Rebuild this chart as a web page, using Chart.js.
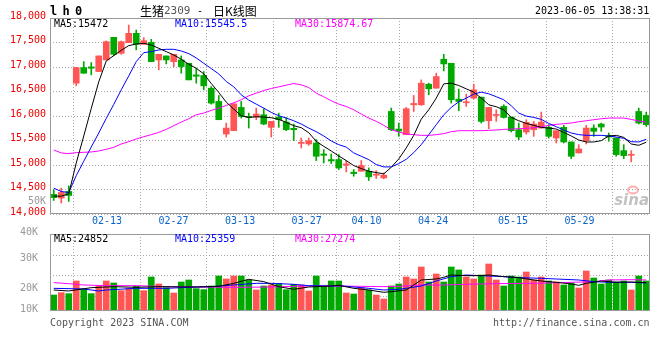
<!DOCTYPE html>
<html>
<head>
<meta charset="utf-8">
<title>生猪2309 日K线图</title>
<script src="https://cdn.jsdelivr.net/npm/chart.js"></script>
<style>
  body { margin: 0; background: #fff; }
  #box { position: relative; width: 660px; height: 360px; overflow: hidden; }
  #box canvas { position: absolute; left: 0; top: 0; }
  .txt { position: absolute; white-space: pre; font: 10px 'DejaVu Sans Mono', monospace; line-height: 12px; color: #000; }
  .cjk { font-family: 'Noto Sans CJK SC', sans-serif; font-size: 12px; line-height: 14px; }
</style>
</head>
<body>
<div id="box">
  <canvas id="price" width="660" height="360"></canvas>
  <canvas id="vol" width="660" height="360"></canvas>

  <div class="txt" style="left:50px;top:4px;font-weight:bold;font-size:12px;line-height:14px;letter-spacing:-1px">l h 0</div>
  <div class="txt cjk" style="left:140px;top:4px">生猪</div>
  <div class="txt" style="left:164px;top:5px;font-size:11px;color:#555">2309</div>
  <div class="txt" style="left:197px;top:5px">-</div>
  <div class="txt cjk" style="left:213px;top:4px">日K线图</div>
  <div class="txt" style="left:535px;top:5px">2023-06-05 13:38:31</div>

  <div class="txt" style="left:54px;top:18px">MA5:15472</div>
  <div class="txt" style="left:175px;top:18px;color:#0000ff">MA10:15545.5</div>
  <div class="txt" style="left:295px;top:18px;color:#ff00ff">MA30:15874.67</div>

  <div class="txt" style="left:54px;top:233px">MA5:24852</div>
  <div class="txt" style="left:175px;top:233px;color:#0000ff">MA10:25359</div>
  <div class="txt" style="left:295px;top:233px;color:#ff00ff">MA30:27274</div>

  <div class="txt" style="left:50px;top:317px;color:#555">Copyright 2023 SINA.COM</div>
  <div class="txt" style="left:493px;top:317px;color:#555">http://finance.sina.com.cn</div>
</div>

<script>
const dates = [
  '02-08','02-09','02-10','02-13','02-14','02-15','02-16','02-17','02-20','02-21',
  '02-22','02-23','02-24','02-27','02-28','03-01','03-02','03-03','03-06','03-07',
  '03-08','03-09','03-10','03-13','03-14','03-15','03-16','03-17','03-20','03-21',
  '03-22','03-23','03-24','03-27','03-28','03-29','03-30','03-31','04-03','04-04',
  '04-06','04-07','04-10','04-11','04-12','04-13','04-14','04-17','04-18','04-19',
  '04-20','04-21','04-24','04-25','04-26','04-27','04-28','05-04','05-05','05-08',
  '05-09','05-10','05-11','05-12','05-15','05-16','05-17','05-18','05-19','05-22',
  '05-23','05-24','05-25','05-26','05-29','05-30','05-31','06-01','06-02','06-05'
];

const opens = [
  14400,14325,14460,16670,16988,17002,16907,17144,17605,17280,
  17497,17687,17463,17503,17144,17226,17110,17144,17076,16839,
  16826,16568,16297,15632,15700,16175,15992,15978,16026,15768,
  15978,15876,15748,15442,15429,15449,15225,15110,15110,14995,
  14853,14873,14873,14792,14737,16093,15734,15619,16229,16229,
  16649,16568,17158,17076,16344,16270,16365,16385,15903,16012,
  16195,15978,15720,15673,15720,15754,15768,15551,15768,15470,
  15246,15497,15754,15836,15598,15551,15293,15198,16093,16012
];
const highs = [
  14495,14528,14575,16995,17110,17090,17226,17531,17605,17531,
  17856,17754,17598,17565,17259,17226,17259,17226,17076,16975,
  16907,16602,16419,15856,16249,16297,16059,16161,16148,15890,
  16059,15971,15836,15551,15551,15517,15314,15225,15212,15090,
  14907,15090,14941,14886,14839,16161,15856,16175,16419,16737,
  16670,16873,17259,17076,16548,16446,16649,16385,16175,16127,
  16229,15978,15856,15924,15890,16080,15822,15700,15809,15470,
  15415,15809,15822,15856,15653,15551,15415,15293,16161,16080
];
const lows = [
  14276,14223,14256,16615,16873,16840,16907,17144,17232,17259,
  17497,17348,17463,17110,16941,17063,17009,16873,16737,16670,
  16534,16242,15924,15571,15700,15958,15754,15924,15822,15571,
  15768,15700,15497,15348,15402,15090,15042,15029,14907,14859,
  14771,14873,14683,14724,14717,15700,15585,15619,16093,16215,
  16432,16568,16920,16263,16107,16195,16351,15856,15741,15890,
  15958,15673,15517,15632,15585,15754,15551,15449,15449,15131,
  15246,15429,15585,15687,15483,15178,15131,15063,15836,15788
];
const closes = [
  14335,14439,14378,16988,16873,16975,17226,17517,17259,17517,
  17687,17463,17537,17110,17259,17144,17259,17009,16737,16812,
  16615,16263,15924,15754,16249,15992,15971,16039,15836,15890,
  15924,15720,15720,15463,15497,15178,15198,15083,14941,15022,
  14825,14988,14758,14812,14792,15720,15693,16148,16256,16670,
  16554,16805,17063,16331,16297,16290,16534,15890,16175,16032,
  15971,15700,15571,15870,15836,15876,15585,15700,15470,15178,
  15327,15754,15687,15775,15571,15212,15192,15219,15856,15822
];

const ma5 = [
  14364,14364,14412,15042,15592,16154,16697,17124,17232,17341,
  17436,17470,17483,17449,17382,17314,17246,17158,17056,16975,
  16859,16663,16480,16283,16141,16005,15971,15985,15978,15964,
  15931,15870,15802,15761,15659,15483,15381,15286,15185,15090,
  14988,14927,14873,14846,14819,14954,15124,15348,15605,15937,
  16127,16365,16656,16670,16622,16554,16487,16365,16229,16188,
  16127,15971,15903,15849,15809,15768,15754,15734,15666,15592,
  15510,15470,15470,15497,15592,15605,15564,15429,15402,15465
];
const ma10 = [
  14528,14459,14439,14785,15076,15368,15653,15951,16236,16534,
  16819,17110,17293,17314,17348,17361,17361,17327,17273,17185,
  17076,16968,16859,16704,16595,16432,16324,16242,16161,16073,
  16005,15958,15903,15836,15754,15680,15592,15490,15415,15365,
  15246,15178,15110,15009,14961,14961,15029,15117,15253,15415,
  15619,15822,16026,16175,16290,16365,16446,16487,16453,16394,
  16331,16209,16059,15998,15971,15931,15849,15781,15714,15653,
  15619,15605,15605,15605,15592,15571,15544,15476,15470,15525
];
const ma30 = [
  15307,15246,15232,15253,15259,15266,15286,15320,15361,15429,
  15476,15531,15578,15619,15666,15727,15802,15876,15944,16026,
  16059,16114,16161,16215,16270,16331,16412,16466,16520,16561,
  16595,16629,16663,16636,16581,16466,16392,16310,16242,16195,
  16127,16039,15958,15890,15809,15720,15673,15632,15619,15605,
  15605,15619,15639,15680,15700,15700,15700,15700,15707,15714,
  15727,15734,15741,15748,15761,15781,15809,15829,15842,15856,
  15883,15903,15924,15944,15958,15958,15958,15931,15897,15875
];

const volumes = [
  18580,19350,19020,23200,20560,19020,21550,23200,22540,20010,
  20780,21440,20010,24520,22210,21000,19240,22870,23530,20670,
  20340,21550,24850,23860,24850,24850,23530,20230,21550,21880,
  22320,20340,22100,21880,19900,24850,21330,23200,23200,19240,
  18910,21000,20230,18580,17260,21550,22210,24520,23860,27820,
  22870,25510,22870,27820,26830,24520,23860,25180,28810,23530,
  21550,24850,24520,26170,23530,24520,23200,22870,21880,22540,
  20890,26500,24190,22210,23530,22870,23200,20230,24850,23200
];

// volume moving averages, read at candle numbers (1-based)
const volMa5 = [
  [1,20230],[3,19900],[6,21000],[9,21330],[12,21110],[15,21330],[20,21220],[23,21440],
  [25,22430],[27,23750],[29,22980],[31,21330],[33,20450],[35,21220],[38,21550],[39,21770],
  [41,20780],[43,20230],[45,19460],[46,19680],[48,20230],[49,21880],[50,23530],[52,23860],
  [53,24410],[54,25180],[56,24960],[58,24960],[59,25180],[61,24630],[63,24300],[65,23530],
  [66,23200],[68,22760],[70,22210],[71,21770],[72,22430],[74,23200],[76,22760],[78,22870],[80,22650]
];
const volMa10 = [
  [1,20780],[5,20560],[7,19900],[8,20230],[12,20780],[16,20780],[20,21220],[22,21330],
  [25,21880],[28,22430],[30,22430],[33,22100],[35,21660],[38,21550],[39,21660],[41,21220],
  [43,20780],[45,20230],[47,20450],[48,20780],[50,21550],[52,23200],[54,24630],[56,25180],
  [58,24960],[61,24630],[63,24300],[66,24080],[68,23860],[71,23530],[73,22980],[75,22760],
  [78,22760],[80,22540]
];
const volMa30 = [
  [1,22650],[3,22320],[5,21880],[8,21660],[12,21660],[16,21330],[20,21220],[25,21110],
  [30,21220],[35,21550],[38,21550],[42,21440],[45,21330],[47,21440],[50,21880],[53,21880],
  [56,22100],[60,22320],[65,22430],[70,22760],[73,22980],[75,23530],[78,23640],[80,23530]
];

const dateTicks = ['02-13','02-27','03-13','03-27','04-10','04-24','05-15','05-29'];
const volTicks = [38700, 30000, 20000, 13300];

const UP = '#ff5555';
const DOWN = '#00a800';
const MONO = "'DejaVu Sans Mono', monospace";
const candleColors = closes.map((c, i) => (c >= opens[i] ? UP : DOWN));
const tickIdx = dateTicks.map(d => dates.indexOf(d) + 1);

// the date grid runs on a slightly wider step than the candles, like the original
const XD_MIN = 1.07;
const XD_MAX = 79.95;

const panelPlugin = {
  id: 'panel',
  beforeDatasetsDraw(chart, args, opts) {
    const { ctx, chartArea: a } = chart;
    ctx.save();
    if (opts.hLines) {
      ctx.strokeStyle = '#aaa';
      ctx.lineWidth = 1;
      ctx.setLineDash([1, 2]);
      opts.hLines.forEach(dy => {
        const y = Math.round(a.top + dy) + 0.5;
        ctx.beginPath();
        ctx.moveTo(a.left, y);
        ctx.lineTo(a.right, y);
        ctx.stroke();
      });
      ctx.setLineDash([]);
    }
    if (opts.mark) {
      ctx.font = 'italic bold 15px "DejaVu Sans", sans-serif';
      ctx.fillStyle = 'rgba(120,120,120,0.45)';
      ctx.textAlign = 'right';
      ctx.textBaseline = 'alphabetic';
      ctx.fillText('sina', a.right - 1, a.bottom - 9);
      ctx.strokeStyle = 'rgba(255,80,80,0.45)';
      ctx.lineWidth = 2;
      ctx.beginPath();
      ctx.ellipse(a.right - 17, a.bottom - 24, 5, 3.5, 0, 0, Math.PI * 2);
      ctx.stroke();
    }
    if (opts.sideLabel) {
      ctx.font = '10px ' + MONO;
      ctx.fillStyle = '#999';
      ctx.textAlign = 'right';
      ctx.textBaseline = 'middle';
      ctx.fillText(opts.sideLabel, a.left - 4, a.bottom - 13);
    }
    ctx.restore();
  },
  afterDraw(chart) {
    const { ctx, chartArea: a } = chart;
    ctx.save();
    ctx.strokeStyle = '#999';
    ctx.lineWidth = 1;
    ctx.strokeRect(a.left + 0.5, a.top + 0.5, a.width - 1, a.height - 1);
    ctx.restore();
  }
};

const maLine = (data, color) => ({
  type: 'line',
  data: data,
  borderColor: color,
  borderWidth: 1,
  pointRadius: 0,
  tension: 0,
  fill: false,
  xAxisID: 'x',
  yAxisID: 'y',
  order: 0
});

const dateAxis = (showLabels, height) => ({
  type: 'linear',
  position: 'bottom',
  min: XD_MIN,
  max: XD_MAX,
  afterBuildTicks: s => { s.ticks = tickIdx.map(v => ({ value: v })); },
  afterFit: s => { s.height = height; },
  ticks: {
    display: showLabels,
    autoSkip: false,
    maxRotation: 0,
    padding: 1,
    color: '#0a64c8',
    font: { family: MONO, size: 10 },
    callback: v => dates[Math.round(v) - 1]
  },
  grid: { color: '#aaa', drawTicks: false },
  border: { display: false, dash: [1, 2] }
});

new Chart(document.getElementById('price'), {
  type: 'bar',
  data: {
    labels: dates,
    datasets: [
      maLine(ma5, '#000000'),
      maLine(ma10, '#0000ff'),
      maLine(ma30, '#ff00ff'),
      {
        data: opens.map((o, i) => [o, closes[i]]),
        backgroundColor: candleColors,
        barThickness: 6,
        minBarLength: 1,
        grouped: false,
        xAxisID: 'x',
        yAxisID: 'y',
        order: 1
      },
      {
        data: lows.map((l, i) => [l, highs[i]]),
        backgroundColor: candleColors,
        barThickness: 1,
        grouped: false,
        xAxisID: 'x',
        yAxisID: 'y',
        order: 2
      }
    ]
  },
  options: {
    responsive: false,
    animation: false,
    devicePixelRatio: 1,
    events: [],
    layout: { padding: { top: 18, right: 10, bottom: 126, left: 0 } },
    plugins: {
      legend: { display: false },
      tooltip: { enabled: false },
      panel: { mark: true, sideLabel: '50K' }
    },
    scales: {
      x: { type: 'category', display: false, offset: true },
      xd: dateAxis(true, 20),
      y: {
        min: 14000,
        max: 18000,
        afterFit: s => { s.width = 50; },
        ticks: {
          stepSize: 500,
          color: '#ee0000',
          font: { family: MONO, size: 10 },
          padding: 4,
          labelOffset: -2
        },
        grid: { color: '#aaa', drawTicks: false },
        border: { display: false, dash: [1, 2] }
      }
    }
  },
  plugins: [panelPlugin]
});

const toPoints = pairs => pairs.map(([k, v]) => ({ x: dates[k - 1], y: v }));

new Chart(document.getElementById('vol'), {
  type: 'bar',
  data: {
    labels: dates,
    datasets: [
      maLine(toPoints(volMa5), '#000000'),
      maLine(toPoints(volMa10), '#0000ff'),
      maLine(toPoints(volMa30), '#ff00ff'),
      {
        data: volumes,
        backgroundColor: candleColors,
        barThickness: 6,
        xAxisID: 'x',
        yAxisID: 'y',
        order: 1
      }
    ]
  },
  options: {
    responsive: false,
    animation: false,
    devicePixelRatio: 1,
    events: [],
    layout: { padding: { top: 234, right: 10, bottom: 49, left: 0 } },
    plugins: {
      legend: { display: false },
      tooltip: { enabled: false },
      panel: { hLines: [20.7, 41.4, 62.1] }
    },
    scales: {
      x: { type: 'category', display: false, offset: true },
      xd: dateAxis(false, 0),
      y: {
        min: volTicks[volTicks.length - 1],
        max: volTicks[0],
        afterBuildTicks: s => { s.ticks = volTicks.map(v => ({ value: v })); },
        afterFit: s => { s.width = 50; },
        ticks: {
          color: '#999',
          font: { family: MONO, size: 10 },
          padding: 4,
          labelOffset: -2,
          callback: v => Math.round(v / 10000) * 10 + 'K'
        },
        grid: { display: false },
        border: { display: false }
      }
    }
  },
  plugins: [panelPlugin]
});
</script>
</body>
</html>
